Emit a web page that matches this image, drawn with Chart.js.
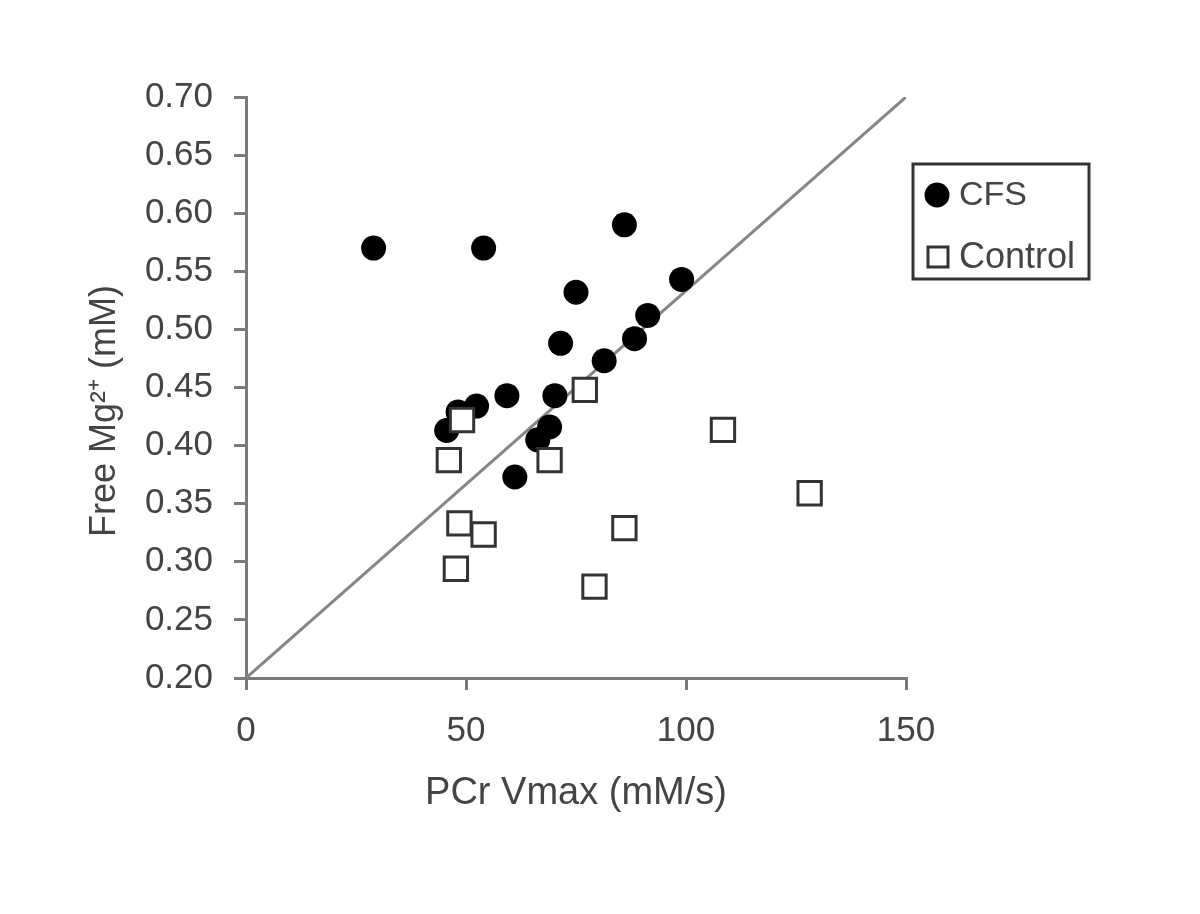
<!DOCTYPE html>
<html><head><meta charset="utf-8">
<script src="https://cdn.jsdelivr.net/npm/chart.js@4.4.0/dist/chart.umd.min.js"></script>
<style>html,body{margin:0;padding:0;background:#fff}canvas{display:block}</style>
</head><body>
<canvas id="c" width="1200" height="914"></canvas>
<script>
// ---- data ----
const cfsX  = [29, 54, 86, 99, 75, 91.3, 88.3, 71.5, 81.4, 59.3, 70.2, 52.4, 48.2, 45.6, 69, 66.3, 61.1];
const cfsY  = [0.57, 0.57, 0.59, 0.543, 0.532, 0.512, 0.492, 0.488, 0.473, 0.443, 0.443, 0.434, 0.429, 0.413, 0.416, 0.405, 0.373];
const ctrlX = [77, 49.1, 46.1, 69, 108.4, 128.1, 48.5, 54, 86, 47.7, 79.2];
const ctrlY = [0.448, 0.422, 0.3875, 0.3875, 0.4136, 0.359, 0.333, 0.3235, 0.329, 0.294, 0.2786];
const lineX = [0, 150];
const lineY = [0.20, 0.70];
const xTicks = [0, 50, 100, 150];
const yTicks = [0.20, 0.25, 0.30, 0.35, 0.40, 0.45, 0.50, 0.55, 0.60, 0.65, 0.70];
const seriesNames = ['CFS', 'Control'];
const xTitle = 'PCr Vmax (mM/s)';
const yTitle = 'Free Mg\u00B2\u207A (mM)';

const toPts = (xs, ys) => xs.map((x, i) => ({x: x, y: ys[i]}));
const FONT = "'Liberation Sans', Arial, sans-serif";
const TXT = '#444';
const AX = '#7a7a7a';

const legendBox = {
  id: 'legendBox',
  afterDraw(chart) {
    const ctx = chart.ctx;
    ctx.save();
    ctx.strokeStyle = '#333';
    ctx.lineWidth = 3;
    ctx.strokeRect(913, 164, 176, 115);
    ctx.textBaseline = 'middle';
    ctx.textAlign = 'left';
    // CFS
    const d0 = chart.data.datasets[0];
    ctx.beginPath();
    ctx.fillStyle = d0.backgroundColor;
    ctx.arc(937, 195, 12.5, 0, Math.PI * 2);
    ctx.fill();
    ctx.fillStyle = TXT;
    ctx.font = '34px ' + FONT;
    ctx.fillText(seriesNames[0], 959, 196);
    // Control
    const d1 = chart.data.datasets[1];
    ctx.fillStyle = d1.backgroundColor;
    ctx.strokeStyle = d1.borderColor;
    ctx.lineWidth = 3;
    ctx.fillRect(928, 247, 20, 20);
    ctx.strokeRect(928, 247, 20, 20);
    ctx.fillStyle = TXT;
    ctx.font = '36px ' + FONT;
    ctx.fillText(seriesNames[1], 959, 258);
    ctx.restore();
  }
};

new Chart(document.getElementById('c'), {
  type: 'scatter',
  data: {
    datasets: [
      { label: seriesNames[0], data: toPts(cfsX, cfsY), pointStyle: 'circle', pointRadius: 12.5,
        backgroundColor: '#000', borderColor: '#000', borderWidth: 0, order: 2, clip: false },
      { label: seriesNames[1], data: toPts(ctrlX, ctrlY), pointStyle: 'rect', pointRadius: 16.5,
        backgroundColor: '#fff', borderColor: '#333', borderWidth: 3, order: 1, clip: false },
      { type: 'line', label: 'line', data: toPts(lineX, lineY), showLine: true, pointRadius: 0,
        borderColor: '#858585', borderWidth: 3, fill: false, order: 3 }
    ]
  },
  options: {
    responsive: false,
    animation: false,
    layout: { padding: { top: 97, right: 294, bottom: 0, left: 0 } },
    plugins: { legend: { display: false }, tooltip: { enabled: false } },
    scales: {
      x: {
        type: 'linear', min: 0, max: 150,
        afterFit(s) { s.height = 236; },
        afterBuildTicks(s) { s.ticks = xTicks.map(v => ({value: v})); },
        border: { color: AX, width: 3 },
        grid: { drawOnChartArea: false, drawTicks: true, tickLength: 12, color: AX, lineWidth: 3 },
        ticks: { color: TXT, font: { size: 35, family: FONT }, padding: 20, maxRotation: 0, autoSkip: false },
        title: { display: true, text: xTitle, color: TXT, font: { size: 38, family: FONT }, padding: { bottom: 98 } }
      },
      y: {
        type: 'linear', min: 0.20, max: 0.70,
        afterFit(s) { s.width = 246; },
        afterBuildTicks(s) { s.ticks = yTicks.map(v => ({value: v})); },
        border: { color: AX, width: 3 },
        grid: { drawOnChartArea: false, drawTicks: true, tickLength: 12, color: AX, lineWidth: 3 },
        ticks: { color: TXT, font: { size: 35, family: FONT }, padding: 21, autoSkip: false,
                 callback: v => Number(v).toFixed(2) },
        title: { display: true, text: yTitle + '\u00A0\u00A0\u00A0\u00A0\u2009', color: TXT,
                 font: { size: 36, family: FONT }, padding: { top: 83 } }
      }
    }
  },
  plugins: [legendBox]
});
</script>
</body></html>
